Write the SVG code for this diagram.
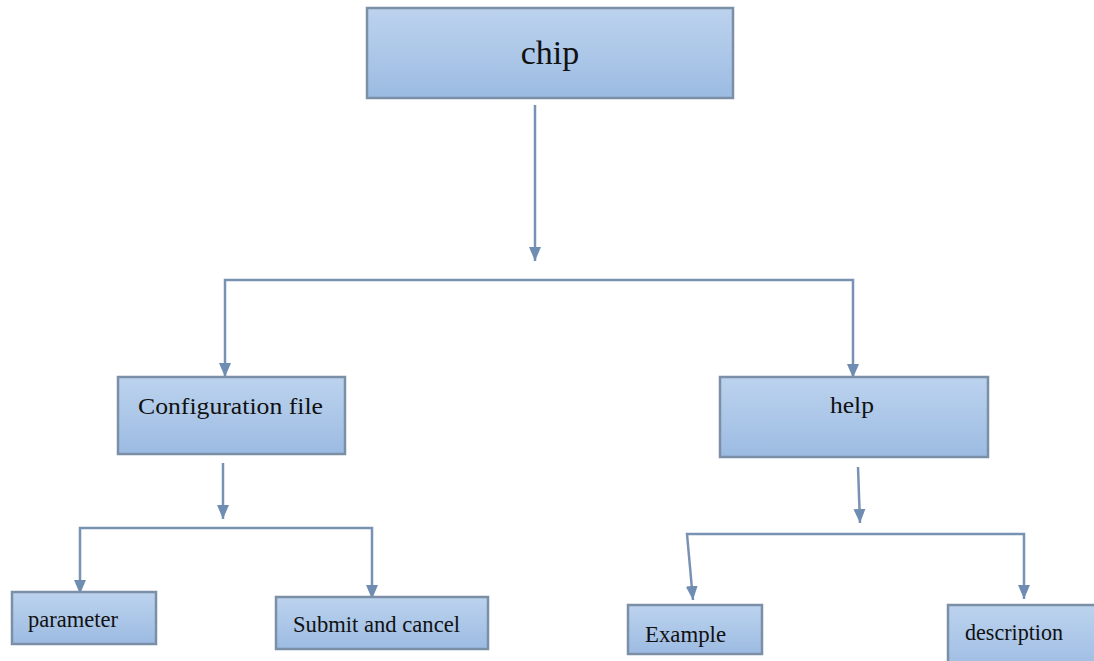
<svg xmlns="http://www.w3.org/2000/svg" width="1094" height="661" viewBox="0 0 1094 661">
<defs>
<linearGradient id="boxfill" x1="0" y1="0" x2="0" y2="1">
<stop offset="0" stop-color="#bcd3ee"/>
<stop offset="1" stop-color="#9cbbe2"/>
</linearGradient>
<marker id="arr" markerUnits="userSpaceOnUse" markerWidth="16" markerHeight="16" viewBox="0 0 16 16" refX="14" refY="8" orient="auto">
<path d="M0,2 L14,8 L0,14 Z" fill="#6f8db3"/>
</marker>
<style>
.box{fill:url(#boxfill);stroke:#7b8fa6;stroke-width:2.5}
.con{fill:none;stroke:#7892b4;stroke-width:2.5}
.t{font-family:"Liberation Serif","Times New Roman",serif;fill:#111;font-size:23px}
.big{font-family:"Liberation Serif","Times New Roman",serif;fill:#111;font-size:34px}
</style>
</defs>
<rect width="1094" height="661" fill="#ffffff"/>
<g id="connectors">
<path class="con" d="M535,105 V261" marker-end="url(#arr)"/>
<path class="con" d="M539,280 H225 V377" marker-end="url(#arr)"/>
<path class="con" d="M539,280 H853 V378" marker-end="url(#arr)"/>
<path class="con" d="M223,463 V519" marker-end="url(#arr)"/>
<path class="con" d="M858,467 L860,523" marker-end="url(#arr)"/>
<path class="con" d="M226,528 H80 V594" marker-end="url(#arr)"/>
<path class="con" d="M226,528 H372 V599" marker-end="url(#arr)"/>
<path class="con" d="M860,534 H687 L693,600" marker-end="url(#arr)"/>
<path class="con" d="M860,534 H1024 V599" marker-end="url(#arr)"/>
</g>
<g id="chip">
<rect class="box" x="367" y="8" width="366" height="90"/>
<text class="big" x="550" y="64" text-anchor="middle">chip</text>
</g>
<g id="config">
<rect class="box" x="118" y="377" width="227" height="77"/>
<text class="t" x="138" y="414" textLength="185" lengthAdjust="spacingAndGlyphs">Configuration file</text>
</g>
<g id="help">
<rect class="box" x="720" y="377" width="268" height="80"/>
<text class="t" x="830" y="413" textLength="44" lengthAdjust="spacingAndGlyphs">help</text>
</g>
<g id="parameter">
<rect class="box" x="12" y="592" width="144" height="52"/>
<text class="t" x="28" y="627" textLength="90" lengthAdjust="spacingAndGlyphs">parameter</text>
</g>
<g id="submit">
<rect class="box" x="276" y="597" width="212" height="52"/>
<text class="t" x="293" y="632" textLength="167" lengthAdjust="spacingAndGlyphs">Submit and cancel</text>
</g>
<g id="example">
<rect class="box" x="628" y="605" width="134" height="49"/>
<text class="t" x="645" y="642" textLength="81" lengthAdjust="spacingAndGlyphs">Example</text>
</g>
<g id="description">
<rect class="box" x="948" y="605" width="160" height="70"/>
<text class="t" x="965" y="640" textLength="98" lengthAdjust="spacingAndGlyphs">description</text>
</g>
</svg>
